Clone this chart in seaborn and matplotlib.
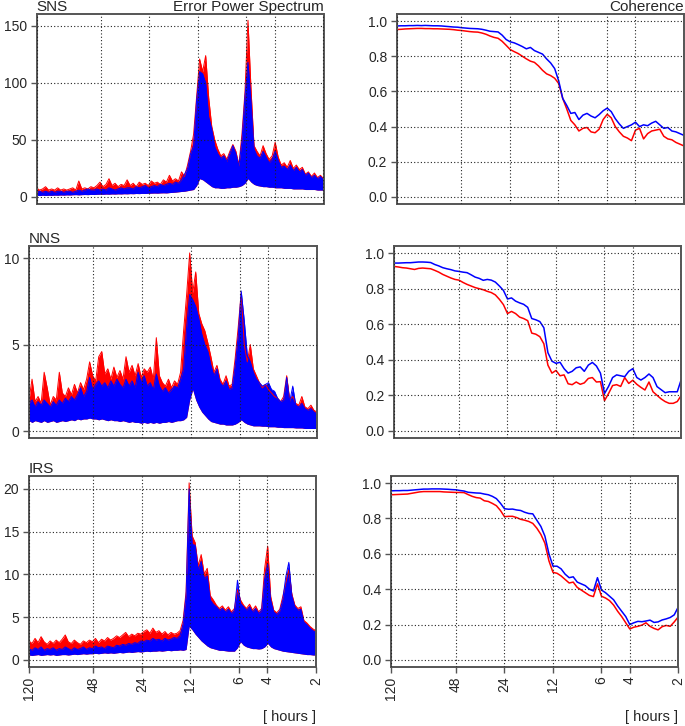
import numpy as np
import matplotlib
matplotlib.use("Agg")
import matplotlib.pyplot as plt
from matplotlib.ticker import FixedLocator, NullLocator
import seaborn as sns

# sample periods in hours (log spaced, 120 h ... 2 h)
periods = np.geomspace(120, 2, 96)
coh_periods = np.geomspace(120, 2, 72)

hour_ticks = [120, 48, 24, 12, 6, 4, 2]
hour_labels = ["120", "48", "24", "12", "6", "4", "2"]

# ---- error power spectrum: upper envelope (red / blue) and common floor ----
sns_red = [8, 6, 7, 9, 6, 7, 6, 8, 6, 7,
           6, 7, 8, 6, 14, 7, 8, 7, 9, 8,
           10, 13, 9, 11, 16, 10, 12, 9, 11, 10,
           15, 10, 12, 9, 13, 11, 12, 10, 14, 12,
           13, 11, 15, 13, 19, 14, 16, 14, 22, 18,
           28, 40, 55, 88, 121, 110, 124, 87, 62, 50,
           42, 36, 38, 33, 40, 46, 40, 28, 55, 92,
           155, 95, 45, 40, 36, 45, 38, 33, 36, 48,
           35, 28, 30, 26, 32, 25, 28, 24, 26, 20,
           22, 18, 21, 17, 19, 16]
sns_blue = [4, 5, 4, 5, 4, 5, 4, 5, 5, 4,
            5, 5, 4, 5, 6, 5, 6, 7, 6, 6,
            7, 6, 7, 6, 8, 7, 6, 7, 8, 7,
            8, 8, 7, 9, 8, 9, 10, 8, 9, 10,
            9, 11, 10, 11, 12, 11, 13, 12, 15, 20,
            25, 38, 45, 85, 110, 108, 100, 70, 60, 44,
            38, 34, 36, 31, 38, 45, 38, 27, 49, 88,
            118, 85, 42, 36, 34, 40, 35, 30, 33, 40,
            32, 26, 27, 24, 28, 23, 26, 22, 24, 19,
            21, 17, 19, 16, 18, 15]
sns_floor = [1.5, 1.2, 1.5, 1.3, 1.5, 1.4, 1.6, 1.5, 1.7, 1.6,
             1.8, 1.7, 1.9, 2.0, 1.8, 2.0, 2.1, 2.0, 2.2, 2.1,
             2.3, 2.4, 2.3, 2.5, 2.4, 2.6, 2.5, 2.7, 2.6, 2.8,
             2.7, 2.9, 2.8, 3.0, 2.9, 3.1, 3.0, 3.2, 3.3, 3.4,
             3.3, 3.5, 3.6, 3.5, 3.8, 4.0, 4.2, 4.5, 4.8, 5.0,
             5.5, 6.0, 6.5, 10, 16, 15, 13, 11, 9, 8,
             8, 7.5, 7.5, 8, 8, 8.5, 8.5, 9, 10, 12,
             16, 13, 11, 10, 9.5, 9, 9, 8.5, 8.5, 8,
             8, 8, 7.5, 7.5, 7.5, 7, 7, 7, 7, 6.5,
             6.5, 6.5, 6.5, 6, 6, 6]

nns_red = [1.8, 3.0, 1.7, 2.0, 1.6, 3.4, 2.5, 1.5, 2.0, 1.8,
           3.4, 2.2, 2.0, 2.5, 2.1, 2.7, 2.2, 2.8, 2.4, 3.0,
           4.0, 3.2, 2.9, 4.3, 4.6, 3.3, 3.6, 3.0, 3.7, 3.1,
           3.5, 3.0, 4.3, 3.4, 3.8, 3.2, 3.9, 3.1, 3.6, 3.4,
           3.7, 3.0, 5.4, 3.2, 2.8, 2.6, 3.0, 2.5, 2.9, 2.7,
           3.4, 5.8, 7.9, 10.3, 8.0, 9.2, 6.8, 6.2, 5.8, 5.1,
           4.3, 3.4, 3.8, 3.0, 2.7, 3.2, 2.6, 2.7, 4.2, 6.0,
           8.0, 5.0, 4.0, 5.0, 3.6, 3.2, 2.8, 2.5, 2.7, 2.4,
           2.2, 2.0, 1.9, 1.7, 2.0, 3.2, 1.8, 2.0, 1.6, 1.5,
           2.0, 1.4, 1.3, 1.5, 1.2, 1.1]
nns_blue = [1.6, 1.8, 1.4, 1.7, 1.5, 1.8, 1.6, 1.4, 1.7, 1.5,
            1.8, 1.6, 1.9, 1.7, 2.0, 1.8, 2.1, 2.5, 2.0, 2.3,
            3.1, 2.4, 2.7, 2.9, 2.6, 2.8, 2.5, 2.9, 2.6, 3.0,
            2.7, 2.5, 3.0, 2.6, 2.9, 2.5, 3.4, 2.8, 3.2, 2.6,
            2.8, 2.4, 3.3, 2.6, 2.3, 2.5, 2.2, 2.4, 2.6, 2.5,
            3.0, 3.6, 6.0, 7.9, 7.6, 7.2, 6.5, 5.6, 5.0, 4.6,
            3.8, 3.2, 3.6, 2.8, 2.6, 2.9, 2.4, 2.5, 3.8, 5.5,
            8.1, 6.4, 4.4, 4.0, 3.4, 3.0, 2.8, 2.6, 2.7, 2.8,
            2.4, 2.3, 1.9, 1.7, 1.8, 3.1, 1.7, 2.6, 1.5, 1.4,
            1.6, 1.3, 1.2, 1.3, 1.1, 1.0]
nns_floor = [0.6, 0.5, 0.6, 0.55, 0.5, 0.6, 0.5, 0.55, 0.6, 0.5,
             0.55, 0.6, 0.55, 0.6, 0.65, 0.6, 0.7, 0.65, 0.7, 0.7,
             0.75, 0.7, 0.7, 0.65, 0.7, 0.65, 0.6, 0.65, 0.6, 0.6,
             0.55, 0.6, 0.55, 0.5, 0.55, 0.5, 0.5, 0.45, 0.5, 0.45,
             0.5, 0.45, 0.5, 0.45, 0.5, 0.5, 0.55, 0.5, 0.55, 0.6,
             0.6, 0.65, 0.8, 1.8, 2.4, 1.8, 1.4, 1.1, 0.9, 0.7,
             0.55, 0.5, 0.45, 0.4, 0.4, 0.35, 0.35, 0.35, 0.4, 0.5,
             0.65, 0.5, 0.4, 0.35, 0.3, 0.3, 0.3, 0.28, 0.28, 0.25,
             0.25, 0.25, 0.22, 0.22, 0.2, 0.2, 0.2, 0.2, 0.18, 0.18,
             0.18, 0.15, 0.15, 0.15, 0.15, 0.15]

irs_red = [2.2, 1.9, 2.5, 2.0, 2.7, 2.1, 1.8, 2.2, 1.9, 2.3,
           2.0, 2.4, 2.9, 2.1, 1.9, 2.3, 2.0, 1.8, 2.2, 2.0,
           2.3, 2.1, 2.5, 2.0, 2.4, 2.2, 2.6, 2.3, 2.5, 2.8,
           2.6, 2.9, 3.2, 2.7, 3.0, 2.8, 3.1, 3.0, 3.3, 3.5,
           3.1, 3.7, 3.2, 3.4, 3.0, 3.3, 2.9, 3.2, 3.0, 3.1,
           3.4, 4.6, 8.0, 20.7, 14.5, 13.7, 11.0, 12.3, 10.0, 10.7,
           7.5, 7.0, 6.4, 6.0, 6.3, 5.8, 6.2, 5.6, 6.0, 8.2,
           7.0, 6.4, 6.0, 6.5, 5.8, 6.3, 5.6, 6.0, 10.7, 13.3,
           7.4, 5.8, 5.5, 5.9, 7.4, 9.0, 10.5, 7.7, 6.4, 6.0,
           6.2, 4.6, 4.3, 3.9, 3.6, 3.4]
irs_blue = [1.3, 1.1, 1.4, 1.2, 1.5, 1.1, 1.3, 1.2, 1.4, 1.1,
            1.3, 1.2, 1.5, 1.3, 1.1, 1.4, 1.2, 1.3, 1.5, 1.2,
            1.4, 1.3, 1.6, 1.4, 1.5, 1.3, 1.6, 1.5, 1.4, 1.7,
            1.6, 1.8, 1.7, 1.9, 1.8, 2.0, 1.9, 2.2, 2.1, 2.3,
            2.2, 2.5, 2.3, 2.4, 2.2, 2.5, 2.3, 2.4, 2.6, 2.5,
            2.8, 4.2, 7.5, 20.0, 13.5, 13.4, 10.5, 11.5, 9.5, 9.8,
            7.0, 6.5, 6.2, 5.8, 6.0, 5.6, 5.9, 5.4, 5.8, 9.3,
            6.6, 6.2, 5.8, 6.2, 5.6, 6.0, 5.4, 5.8, 9.5, 11.2,
            7.0, 5.6, 5.3, 5.7, 7.0, 9.7, 11.4, 7.5, 6.2, 5.8,
            5.9, 4.4, 4.1, 3.7, 3.4, 3.2]
irs_floor = [0.55, 0.5, 0.55, 0.6, 0.5, 0.55, 0.6, 0.55, 0.6, 0.5,
             0.55, 0.6, 0.6, 0.55, 0.6, 0.65, 0.6, 0.65, 0.7, 0.65,
             0.7, 0.7, 0.75, 0.7, 0.75, 0.8, 0.75, 0.8, 0.75, 0.8,
             0.85, 0.8, 0.85, 0.9, 0.85, 0.9, 0.95, 0.9, 0.95, 1.0,
             0.95, 1.0, 1.0, 1.05, 1.0, 1.05, 1.1, 1.05, 1.1, 1.1,
             1.15, 1.1, 1.2, 3.9, 3.5, 3.0, 2.6, 2.2, 1.9, 1.6,
             1.4, 1.3, 1.2, 1.1, 1.1, 1.05, 1.0, 1.0, 1.0, 1.4,
             2.1, 1.7, 1.5, 1.4, 1.3, 1.3, 1.25, 1.3, 1.5, 1.9,
             1.5, 1.3, 1.2, 1.1, 1.0, 0.95, 0.9, 0.85, 0.8, 0.75,
             0.7, 0.65, 0.6, 0.6, 0.55, 0.55]

# ---- coherence ----
coh_sns_blue = [0.972, 0.973, 0.973, 0.974, 0.974, 0.975, 0.974, 0.975, 0.974, 0.973,
                0.973, 0.972, 0.970, 0.968, 0.966, 0.965, 0.962, 0.960, 0.958, 0.957,
                0.956, 0.953, 0.948, 0.942, 0.940, 0.938, 0.920, 0.895, 0.882, 0.876,
                0.866, 0.855, 0.842, 0.850, 0.832, 0.822, 0.812, 0.785, 0.762, 0.730,
                0.660, 0.560, 0.520, 0.475, 0.480, 0.440, 0.465, 0.475, 0.460, 0.450,
                0.468, 0.490, 0.505, 0.485, 0.445, 0.415, 0.390, 0.400, 0.410, 0.425,
                0.400, 0.410, 0.405, 0.420, 0.430, 0.410, 0.390, 0.395, 0.375, 0.370,
                0.360, 0.350]
coh_sns_red = [0.952, 0.953, 0.955, 0.956, 0.957, 0.958, 0.958, 0.957, 0.957, 0.956,
               0.956, 0.955, 0.954, 0.953, 0.951, 0.948, 0.946, 0.943, 0.940, 0.938,
               0.937, 0.932, 0.925, 0.915, 0.907, 0.902, 0.885, 0.862, 0.838, 0.826,
               0.815, 0.800, 0.785, 0.772, 0.765, 0.745, 0.720, 0.700, 0.690, 0.675,
               0.645, 0.560, 0.500, 0.435, 0.410, 0.375, 0.390, 0.395, 0.370, 0.365,
               0.385, 0.440, 0.470, 0.450, 0.400, 0.370, 0.345, 0.335, 0.320, 0.380,
               0.390, 0.330, 0.360, 0.375, 0.380, 0.385, 0.345, 0.330, 0.325, 0.310,
               0.300, 0.290]
coh_nns_blue = [0.944, 0.944, 0.945, 0.946, 0.946, 0.948, 0.950, 0.950, 0.949, 0.947,
                0.936, 0.928, 0.918, 0.912, 0.907, 0.900, 0.897, 0.893, 0.890, 0.878,
                0.865, 0.858, 0.847, 0.852, 0.848, 0.837, 0.815, 0.790, 0.742, 0.748,
                0.730, 0.720, 0.712, 0.695, 0.632, 0.625, 0.615, 0.580, 0.440, 0.392,
                0.380, 0.386, 0.350, 0.325, 0.335, 0.355, 0.360, 0.335, 0.370, 0.385,
                0.365, 0.325, 0.210, 0.250, 0.300, 0.315, 0.310, 0.305, 0.335, 0.350,
                0.300, 0.286, 0.300, 0.320, 0.300, 0.249, 0.232, 0.215, 0.220, 0.220,
                0.220, 0.290]
coh_nns_red = [0.925, 0.922, 0.918, 0.916, 0.912, 0.908, 0.914, 0.916, 0.914, 0.912,
               0.903, 0.893, 0.880, 0.870, 0.860, 0.852, 0.848, 0.835, 0.824, 0.815,
               0.806, 0.800, 0.794, 0.785, 0.778, 0.765, 0.740, 0.710, 0.660, 0.672,
               0.660, 0.640, 0.632, 0.620, 0.550, 0.544, 0.530, 0.490, 0.370, 0.325,
               0.340, 0.310, 0.315, 0.265, 0.260, 0.275, 0.262, 0.270, 0.295, 0.300,
               0.275, 0.277, 0.170, 0.210, 0.255, 0.260, 0.250, 0.300, 0.267, 0.285,
               0.262, 0.245, 0.230, 0.275, 0.220, 0.200, 0.180, 0.165, 0.155, 0.155,
               0.165, 0.200]
coh_irs_blue = [0.956, 0.957, 0.957, 0.958, 0.958, 0.960, 0.962, 0.964, 0.966, 0.966,
                0.967, 0.967, 0.967, 0.966, 0.965, 0.963, 0.962, 0.958, 0.955, 0.948,
                0.946, 0.944, 0.943, 0.938, 0.934, 0.925, 0.912, 0.886, 0.855, 0.852,
                0.853, 0.848, 0.845, 0.835, 0.828, 0.826, 0.790, 0.755, 0.700, 0.600,
                0.530, 0.530, 0.515, 0.485, 0.465, 0.470, 0.440, 0.430, 0.420, 0.400,
                0.390, 0.465, 0.395, 0.380, 0.360, 0.340, 0.305, 0.275, 0.245, 0.200,
                0.210, 0.218, 0.216, 0.220, 0.225, 0.212, 0.215, 0.226, 0.232, 0.240,
                0.255, 0.300]
coh_irs_red = [0.934, 0.935, 0.936, 0.937, 0.938, 0.942, 0.946, 0.950, 0.952, 0.952,
               0.952, 0.952, 0.952, 0.950, 0.949, 0.948, 0.947, 0.947, 0.946, 0.935,
               0.925, 0.918, 0.915, 0.900, 0.896, 0.885, 0.872, 0.845, 0.810, 0.812,
               0.812, 0.805, 0.795, 0.790, 0.783, 0.772, 0.745, 0.710, 0.660, 0.560,
               0.495, 0.490, 0.475, 0.455, 0.435, 0.440, 0.410, 0.395, 0.380, 0.365,
               0.358, 0.430, 0.360, 0.350, 0.335, 0.310, 0.275, 0.245, 0.210, 0.175,
               0.185, 0.190, 0.197, 0.210, 0.190, 0.178, 0.170, 0.188, 0.195, 0.190,
               0.215, 0.244]

RED = "#FF0000"
BLUE = "#0000FF"
W, H = 685, 726

sns.set_theme(style="white")
plt.rcParams["font.family"] = ["Liberation Sans", "DejaVu Sans"]


def rect(x0, x1, y0, y1):
    return [x0 / W, 1 - y1 / H, (x1 - x0) / W, (y1 - y0) / H]


def style_axes(ax, yticks, ylim, fmt, bottom_row):
    ax.set_xscale("log")
    ax.set_xlim(120, 2)
    ax.xaxis.set_major_locator(FixedLocator(hour_ticks))
    ax.xaxis.set_minor_locator(NullLocator())
    ax.set_ylim(ylim)
    ax.set_yticks(yticks)
    ax.set_yticklabels([fmt.format(v) for v in yticks])
    ax.set_xlabel("")
    ax.set_ylabel("")
    ax.set_axisbelow(False)
    ax.grid(True, color="#222222", ls=(0, (1, 2)), lw=0.8)
    for s in ax.spines.values():
        s.set_color("#555555")
        s.set_linewidth(1.4)
    ax.tick_params(axis="y", direction="out", length=4, width=1,
                   color="#555555", labelsize=10, pad=3, left=True)
    if bottom_row:
        ax.set_xticklabels(hour_labels, rotation=90)
        ax.tick_params(axis="x", direction="out", length=4, width=1,
                       color="#555555", labelsize=10, pad=3, bottom=True)
    else:
        ax.tick_params(axis="x", bottom=False, labelbottom=False)


def draw_spectrum(ax, red_hi, blue_hi, floor):
    ax.fill_between(periods, floor, red_hi, color=RED, lw=0)
    sns.lineplot(x=periods, y=red_hi, ax=ax, color=RED, lw=0.7, estimator=None)
    ax.fill_between(periods, floor, blue_hi, color=BLUE, lw=0)
    sns.lineplot(x=periods, y=blue_hi, ax=ax, color=BLUE, lw=0.7, estimator=None)


def draw_coherence(ax, red, blue):
    sns.lineplot(x=coh_periods, y=red, ax=ax, color=RED, lw=1.1, estimator=None)
    sns.lineplot(x=coh_periods, y=blue, ax=ax, color=BLUE, lw=1.1, estimator=None)


fig = plt.figure(figsize=(W / 100, H / 100), dpi=100)

coh_ticks = [0.0, 0.2, 0.4, 0.6, 0.8, 1.0]
coh_lim = (-0.04, 1.04)

ax = fig.add_axes(rect(36.5, 323.5, 14, 204))
draw_spectrum(ax, sns_red, sns_blue, sns_floor)
style_axes(ax, [0, 50, 100, 150], (-6.2, 160.5), "{:g}", False)
ax.set_title("SNS", loc="left", fontsize=11, pad=2)
ax.set_title("Error Power Spectrum", loc="right", fontsize=11, pad=2)

ax = fig.add_axes(rect(397, 684, 14, 204))
draw_coherence(ax, coh_sns_red, coh_sns_blue)
style_axes(ax, coh_ticks, coh_lim, "{:.1f}", False)
ax.set_title("Coherence", loc="right", fontsize=11, pad=2)

ax = fig.add_axes(rect(29, 317, 246, 438))
draw_spectrum(ax, nns_red, nns_blue, nns_floor)
style_axes(ax, [0, 5, 10], (-0.4, 10.7), "{:g}", False)
ax.set_title("NNS", loc="left", fontsize=11, pad=2)

ax = fig.add_axes(rect(394.3, 681.3, 246, 438))
draw_coherence(ax, coh_nns_red, coh_nns_blue)
style_axes(ax, coh_ticks, coh_lim, "{:.1f}", False)

ax = fig.add_axes(rect(29, 316, 476, 667))
draw_spectrum(ax, irs_red, irs_blue, irs_floor)
style_axes(ax, [0, 5, 10, 15, 20], (-0.85, 21.5), "{:g}", True)
ax.set_title("IRS", loc="left", fontsize=11, pad=2)

ax = fig.add_axes(rect(391.3, 678.3, 476, 667))
draw_coherence(ax, coh_irs_red, coh_irs_blue)
style_axes(ax, coh_ticks, coh_lim, "{:.1f}", True)

fig.text(316 / W, 1 - 717 / H, "[ hours ]", ha="right", va="center", fontsize=10.5)
fig.text(678.3 / W, 1 - 717 / H, "[ hours ]", ha="right", va="center", fontsize=10.5)

fig.savefig("out.png", dpi=100)
